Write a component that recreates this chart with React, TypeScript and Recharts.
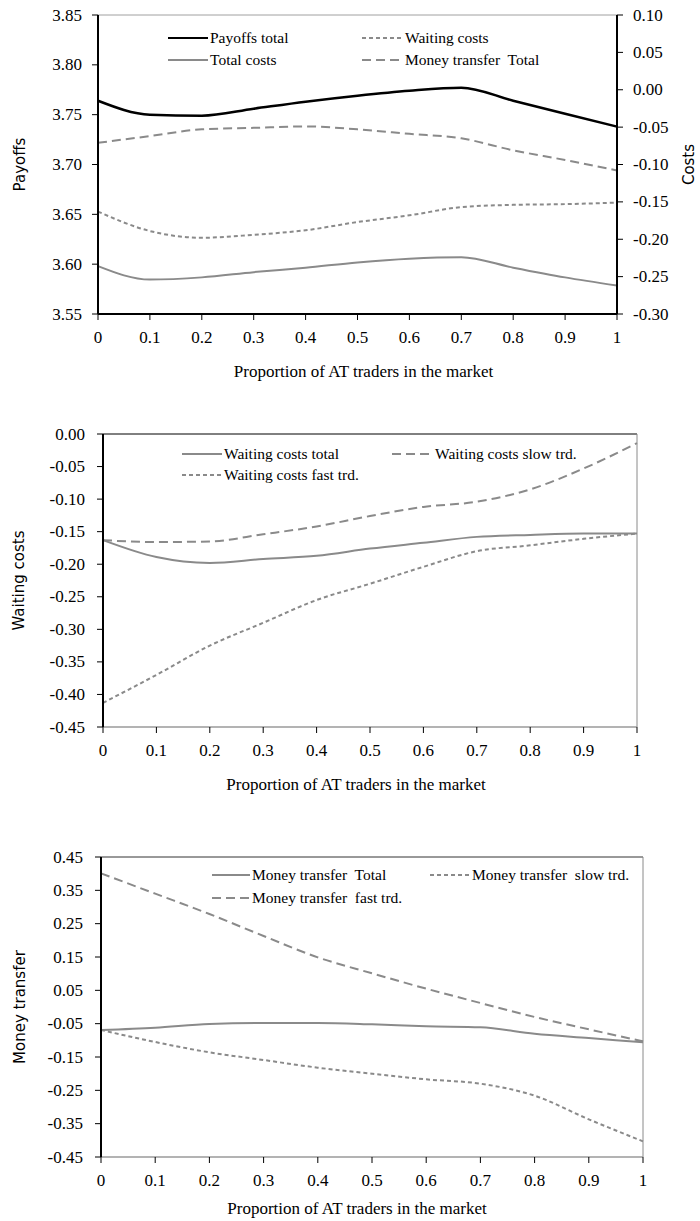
import React from 'react';
import { LineChart, Line, XAxis, YAxis, ReferenceLine, Legend } from 'recharts';

// x values (proportion of AT traders)
const proportions = [0, 0.1, 0.2, 0.3, 0.4, 0.5, 0.6, 0.7, 0.8, 0.9, 1];

// chart 1: payoffs (left axis) and costs (right axis)
const payoffsTotal = [3.764, 3.75, 3.749, 3.756, 3.763, 3.769, 3.774, 3.777, 3.764, 3.751, 3.738];
const totalCosts = [-0.236, -0.254, -0.251, -0.244, -0.238, -0.231, -0.226, -0.224, -0.238, -0.251, -0.262];
const waitingCosts = [-0.163, -0.189, -0.198, -0.194, -0.188, -0.177, -0.168, -0.157, -0.154, -0.153, -0.151];
const moneyTransferTotal = [-0.071, -0.062, -0.053, -0.051, -0.049, -0.053, -0.059, -0.065, -0.081, -0.094, -0.108];

// chart 2: waiting costs
const waitingTotal = [-0.163, -0.189, -0.198, -0.192, -0.187, -0.176, -0.167, -0.158, -0.155, -0.153, -0.153];
const waitingSlow = [-0.163, -0.166, -0.165, -0.154, -0.142, -0.126, -0.112, -0.104, -0.085, -0.053, -0.014];
const waitingFast = [-0.413, -0.37, -0.325, -0.29, -0.255, -0.23, -0.204, -0.18, -0.171, -0.161, -0.153];

// chart 3: money transfer
const moneyTotal = [-0.069, -0.062, -0.051, -0.048, -0.048, -0.052, -0.058, -0.061, -0.08, -0.093, -0.106];
const moneySlow = [-0.069, -0.105, -0.136, -0.159, -0.182, -0.2, -0.217, -0.23, -0.266, -0.337, -0.403];
const moneyFast = [0.401, 0.34, 0.279, 0.213, 0.149, 0.101, 0.055, 0.012, -0.03, -0.067, -0.103];

// tick labels
const payoffTicks = [3.55, 3.6, 3.65, 3.7, 3.75, 3.8, 3.85];
const costTicks = [-0.3, -0.25, -0.2, -0.15, -0.1, -0.05, 0, 0.05, 0.1];
const waitingTicks = [-0.45, -0.4, -0.35, -0.3, -0.25, -0.2, -0.15, -0.1, -0.05, 0];
const moneyTicks = [-0.45, -0.35, -0.25, -0.15, -0.05, 0.05, 0.15, 0.25, 0.35, 0.45];

const xTitle = 'Proportion of AT traders in the market';

const SERIF = '"Liberation Serif", "DejaVu Serif", serif';
const SANS = '"DejaVu Sans", Verdana, sans-serif';
const GRAY = '#8a8a8a';
const SHORT = '4 3';
const LONG = '9 5';

const chart1Data = proportions.map((x, i) => ({
    x,
    payoffsTotal: payoffsTotal[i],
    totalCosts: totalCosts[i],
    waitingCosts: waitingCosts[i],
    moneyTransferTotal: moneyTransferTotal[i],
}));

const chart2Data = proportions.map((x, i) => ({
    x,
    waitingTotal: waitingTotal[i],
    waitingSlow: waitingSlow[i],
    waitingFast: waitingFast[i],
}));

const chart3Data = proportions.map((x, i) => ({
    x,
    moneyTotal: moneyTotal[i],
    moneySlow: moneySlow[i],
    moneyFast: moneyFast[i],
}));

type LegendItem = { name: string; color: string; dash?: string; left: number; top: number; lineW: number };

const LegendBox = ({ items }: { items: LegendItem[] }) => (
    <div style={{ position: 'relative', width: 700, height: 0 }}>
        {items.map(it => (
            <div
                key={it.name}
                style={{
                    position: 'absolute',
                    left: it.left,
                    top: it.top - 10,
                    height: 20,
                    display: 'flex',
                    alignItems: 'center',
                    whiteSpace: 'pre',
                }}
            >
                <svg width={it.lineW} height={4} style={{ display: 'block' }}>
                    <line x1={0} y1={2} x2={it.lineW} y2={2} stroke={it.color} strokeWidth={2} strokeDasharray={it.dash} />
                </svg>
                <span style={{ marginLeft: 2, fontFamily: SERIF, fontSize: 15.5, color: '#000' }}>{it.name}</span>
            </div>
        ))}
    </div>
);

const fmt2 = (v: number) => v.toFixed(2);

const xTick = (props: any) => (
    <text x={props.x} y={props.y} textAnchor="middle" dominantBaseline="hanging" fill="#000" style={{ fontFamily: SERIF, fontSize: 17 }}>
        {String(props.payload.value)}
    </text>
);
const yTick = (anchor: 'start' | 'end') => (props: any) => (
    <text x={props.x} y={props.y} textAnchor={anchor} dominantBaseline="central" fill="#000" style={{ fontFamily: SERIF, fontSize: 17 }}>
        {fmt2(props.payload.value)}
    </text>
);

const xAxisProps = (dx: number, axisColor: string, axisWidth: number, h: number) => ({
    dataKey: 'x',
    type: 'number' as const,
    domain: [0, 1],
    ticks: proportions,
    interval: 0 as const,
    tick: xTick,
    tickSize: 6,
    tickMargin: 11,
    tickLine: { stroke: '#000' },
    axisLine: { stroke: axisColor, strokeWidth: axisWidth },
    height: h,
    label: {
        value: xTitle,
        position: 'insideBottom' as const,
        offset: 0,
        dx,
        style: { fontFamily: SERIF, fontSize: 17, fill: '#000' },
    },
});

const yTitle = (value: string, offset: number, pos: 'insideLeft' | 'insideRight') => ({
    value,
    angle: -90,
    position: pos,
    offset,
    style: { textAnchor: 'middle', fontFamily: SANS, fontSize: 15, fill: '#000' },
});

const PayoffsChart = () => (
    <LineChart width={700} height={400} data={chart1Data} margin={{ top: 15, right: 0, bottom: 23, left: 0 }}>
        <XAxis {...xAxisProps(6, '#000', 2, 63)} />
        <YAxis
            yAxisId="left"
            width={98}
            domain={[3.55, 3.85]}
            ticks={payoffTicks}
            interval={0}
            tick={yTick('end')}
            tickSize={6}
            tickMargin={10}
            tickLine={{ stroke: '#000' }}
            axisLine={{ stroke: '#000', strokeWidth: 2 }}
            label={yTitle('Payoffs', 20, 'insideLeft')}
        />
        <YAxis
            yAxisId="right"
            orientation="right"
            width={83}
            domain={[-0.3, 0.1]}
            ticks={costTicks}
            interval={0}
            tick={yTick('start')}
            tickSize={6}
            tickMargin={10}
            tickLine={{ stroke: '#000' }}
            axisLine={{ stroke: '#000', strokeWidth: 2 }}
            label={yTitle('Costs', 11, 'insideRight')}
        />
        <ReferenceLine yAxisId="left" y={3.85} stroke="#a0a0a0" strokeWidth={1} />
        <Line yAxisId="left" type="monotone" dataKey="payoffsTotal" name="Payoffs total" stroke="#000" strokeWidth={2.5} dot={false} isAnimationActive={false} />
        <Line yAxisId="right" type="monotone" dataKey="totalCosts" name="Total costs" stroke={GRAY} strokeWidth={2} dot={false} isAnimationActive={false} />
        <Line yAxisId="right" type="monotone" dataKey="waitingCosts" name="Waiting costs" stroke={GRAY} strokeWidth={2} strokeDasharray={SHORT} dot={false} isAnimationActive={false} />
        <Line yAxisId="right" type="monotone" dataKey="moneyTransferTotal" name="Money transfer Total" stroke={GRAY} strokeWidth={2} strokeDasharray={LONG} dot={false} isAnimationActive={false} />
        <Legend
            verticalAlign="top"
            wrapperStyle={{ top: 0, left: 0, width: 700, height: 0 }}
            content={() => (
                <LegendBox
                    items={[
                        { name: 'Payoffs total', color: '#000', left: 168, top: 38, lineW: 40 },
                        { name: 'Total costs', color: GRAY, left: 168, top: 60, lineW: 40 },
                        { name: 'Waiting costs', color: GRAY, dash: SHORT, left: 362, top: 38, lineW: 41 },
                        { name: 'Money transfer  Total', color: GRAY, dash: LONG, left: 362, top: 60, lineW: 41 },
                    ]}
                />
            )}
        />
    </LineChart>
);

const WaitingChart = () => (
    <LineChart width={700} height={420} data={chart2Data} margin={{ top: 34, right: 63, bottom: 30, left: 0 }}>
        <XAxis {...xAxisProps(-14, '#9a9a9a', 1.5, 63)} />
        <YAxis
            width={103}
            domain={[-0.45, 0]}
            ticks={waitingTicks}
            interval={0}
            tick={yTick('end')}
            tickSize={6}
            tickMargin={12}
            tickLine={{ stroke: '#000' }}
            axisLine={{ stroke: '#000', strokeWidth: 2 }}
            label={yTitle('Waiting costs', 19, 'insideLeft')}
        />
        <ReferenceLine y={0} stroke="#000" strokeWidth={1} />
        <ReferenceLine x={1} stroke="#8a8a8a" strokeWidth={1} />
        <Line type="monotone" dataKey="waitingTotal" name="Waiting costs total" stroke={GRAY} strokeWidth={2} dot={false} isAnimationActive={false} />
        <Line type="monotone" dataKey="waitingSlow" name="Waiting costs slow trd." stroke={GRAY} strokeWidth={2} strokeDasharray={LONG} dot={false} isAnimationActive={false} />
        <Line type="monotone" dataKey="waitingFast" name="Waiting costs fast trd." stroke={GRAY} strokeWidth={2} strokeDasharray={SHORT} dot={false} isAnimationActive={false} />
        <Legend
            verticalAlign="top"
            wrapperStyle={{ top: 0, left: 0, width: 700, height: 0 }}
            content={() => (
                <LegendBox
                    items={[
                        { name: 'Waiting costs total', color: GRAY, left: 182, top: 54, lineW: 40 },
                        { name: 'Waiting costs fast trd.', color: GRAY, dash: SHORT, left: 182, top: 75, lineW: 40 },
                        { name: 'Waiting costs slow trd.', color: GRAY, dash: LONG, left: 392, top: 54, lineW: 41 },
                    ]}
                />
            )}
        />
    </LineChart>
);

const MoneyChart = () => (
    <LineChart width={700} height={401} data={chart3Data} margin={{ top: 37, right: 57, bottom: 7, left: 0 }}>
        <XAxis {...xAxisProps(-15, '#9a9a9a', 1.5, 57)} />
        <YAxis
            width={101}
            domain={[-0.45, 0.45]}
            ticks={moneyTicks}
            interval={0}
            tick={yTick('end')}
            tickSize={6}
            tickMargin={12}
            tickLine={{ stroke: '#000' }}
            axisLine={{ stroke: '#000', strokeWidth: 2 }}
            label={yTitle('Money transfer', 20, 'insideLeft')}
        />
        <ReferenceLine y={0.45} stroke="#333" strokeWidth={1} />
        <ReferenceLine x={1} stroke="#8a8a8a" strokeWidth={1} />
        <Line type="monotone" dataKey="moneyTotal" name="Money transfer Total" stroke={GRAY} strokeWidth={2} dot={false} isAnimationActive={false} />
        <Line type="monotone" dataKey="moneySlow" name="Money transfer slow trd." stroke={GRAY} strokeWidth={2} strokeDasharray={SHORT} dot={false} isAnimationActive={false} />
        <Line type="monotone" dataKey="moneyFast" name="Money transfer fast trd." stroke={GRAY} strokeWidth={2} strokeDasharray={LONG} dot={false} isAnimationActive={false} />
        <Legend
            verticalAlign="top"
            wrapperStyle={{ top: 0, left: 0, width: 700, height: 0 }}
            content={() => (
                <LegendBox
                    items={[
                        { name: 'Money transfer  Total', color: GRAY, left: 212, top: 55, lineW: 38 },
                        { name: 'Money transfer  fast trd.', color: GRAY, dash: LONG, left: 212, top: 78, lineW: 38 },
                        { name: 'Money transfer  slow trd.', color: GRAY, dash: SHORT, left: 430, top: 55, lineW: 40 },
                    ]}
                />
            )}
        />
    </LineChart>
);

export default function App() {
    return (
        <div style={{ position: 'absolute', top: 0, left: 0, width: 700, height: 1221, background: '#fff' }}>
            <PayoffsChart />
            <WaitingChart />
            <MoneyChart />
        </div>
    );
}
